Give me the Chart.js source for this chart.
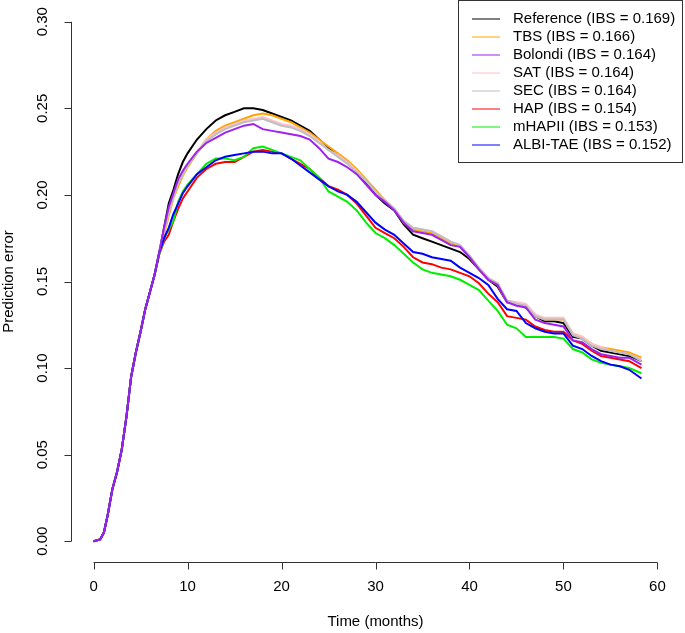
<!DOCTYPE html>
<html>
<head>
<meta charset="utf-8">
<script src="https://cdn.jsdelivr.net/npm/chart.js@4.4.1/dist/chart.umd.min.js"></script>
<style>
  html, body { margin: 0; padding: 0; background: #fff; }
  #wrap { width: 685px; height: 633px; }
</style>
</head>
<body>
<div id="wrap"><canvas id="myChart" width="685" height="633"></canvas></div>
<script>
// time grid (months)
const months = [0, 0.7, 1.1, 1.5, 2, 2.5, 3, 3.5, 4, 4.5, 5, 5.5, 6, 6.5,
  7, 7.5, 8, 8.5, 9, 9.5, 10, 11, 12, 13, 14, 15, 16, 17, 18, 19, 20,
  21, 22, 23, 24, 25, 26, 27, 28, 29, 30, 31, 32, 33, 34, 35, 36, 37, 38, 39, 40,
  41, 42, 43, 44, 45, 46, 47, 48, 49, 50, 51, 52, 53, 54, 55, 56, 57, 58.3];

// all curves share the first part (0 - 6.5 months)
const start = [0, 0.001, 0.005, 0.015, 0.030, 0.040, 0.053, 0.072, 0.095, 0.109, 0.121, 0.134, 0.144, 0.154];

// values from 7 months on
const reference = [0.167, 0.181, 0.195, 0.203, 0.212, 0.219, 0.224, 0.232, 0.238, 0.243, 0.246, 0.248, 0.250, 0.250, 0.249, 0.247, 0.245,
  0.243, 0.240, 0.237, 0.232, 0.227, 0.223, 0.219, 0.214, 0.207, 0.200, 0.195, 0.191, 0.183, 0.177, 0.175, 0.173, 0.171, 0.169, 0.167, 0.163,
  0.157, 0.151, 0.147, 0.138, 0.137, 0.135, 0.130, 0.127, 0.127, 0.126, 0.118, 0.117, 0.113, 0.110, 0.109, 0.108, 0.107, 0.104];
const tbs = [0.166, 0.177, 0.188, 0.198, 0.205, 0.211, 0.216, 0.224, 0.232, 0.237, 0.240, 0.242, 0.244, 0.246, 0.247, 0.246, 0.244,
  0.242, 0.239, 0.236, 0.232, 0.228, 0.224, 0.220, 0.215, 0.209, 0.203, 0.197, 0.192, 0.184, 0.180, 0.179, 0.178, 0.175, 0.172, 0.170, 0.164,
  0.157, 0.151, 0.148, 0.138, 0.137, 0.136, 0.130, 0.128, 0.128, 0.128, 0.120, 0.118, 0.114, 0.112, 0.111, 0.110, 0.109, 0.106];
const bolondi = [0.167, 0.181, 0.193, 0.201, 0.209, 0.214, 0.218, 0.225, 0.230, 0.233, 0.236, 0.238, 0.240, 0.241, 0.238, 0.237, 0.236,
  0.235, 0.234, 0.232, 0.227, 0.221, 0.219, 0.216, 0.212, 0.206, 0.200, 0.196, 0.191, 0.184, 0.179, 0.178, 0.177, 0.174, 0.171, 0.170, 0.164,
  0.157, 0.151, 0.148, 0.138, 0.136, 0.135, 0.128, 0.126, 0.125, 0.124, 0.116, 0.115, 0.111, 0.108, 0.107, 0.106, 0.106, 0.102];
const sat = [0.167, 0.179, 0.190, 0.199, 0.207, 0.212, 0.217, 0.225, 0.232, 0.236, 0.239, 0.241, 0.243, 0.244, 0.245, 0.243, 0.241,
  0.240, 0.238, 0.235, 0.231, 0.226, 0.223, 0.219, 0.214, 0.208, 0.202, 0.197, 0.192, 0.185, 0.181, 0.180, 0.179, 0.176, 0.173, 0.171, 0.165,
  0.158, 0.152, 0.149, 0.139, 0.138, 0.137, 0.131, 0.129, 0.129, 0.129, 0.120, 0.118, 0.114, 0.112, 0.110, 0.109, 0.108, 0.105];
const sec = [0.167, 0.179, 0.190, 0.199, 0.207, 0.212, 0.217, 0.224, 0.231, 0.235, 0.238, 0.240, 0.242, 0.243, 0.244, 0.242, 0.240,
  0.239, 0.237, 0.234, 0.230, 0.226, 0.222, 0.218, 0.213, 0.208, 0.202, 0.197, 0.192, 0.185, 0.181, 0.180, 0.179, 0.176, 0.173, 0.171, 0.165,
  0.158, 0.152, 0.149, 0.139, 0.137, 0.136, 0.130, 0.128, 0.128, 0.128, 0.119, 0.117, 0.113, 0.111, 0.110, 0.109, 0.108, 0.104];
const hap = [0.166, 0.173, 0.177, 0.185, 0.192, 0.198, 0.202, 0.210, 0.215, 0.218, 0.219, 0.219, 0.222, 0.225, 0.226, 0.225, 0.224,
  0.221, 0.218, 0.215, 0.210, 0.205, 0.203, 0.200, 0.195, 0.188, 0.181, 0.178, 0.175, 0.170, 0.164, 0.161, 0.160, 0.158, 0.157, 0.155, 0.153,
  0.149, 0.143, 0.138, 0.130, 0.129, 0.128, 0.124, 0.122, 0.121, 0.121, 0.116, 0.114, 0.110, 0.107, 0.106, 0.105, 0.104, 0.100];
const mhapii = [0.166, 0.175, 0.180, 0.185, 0.196, 0.202, 0.206, 0.212, 0.218, 0.221, 0.221, 0.220, 0.222, 0.227, 0.228, 0.226, 0.224,
  0.222, 0.220, 0.215, 0.210, 0.202, 0.199, 0.196, 0.191, 0.184, 0.178, 0.175, 0.171, 0.166, 0.161, 0.157, 0.155, 0.154, 0.153, 0.151, 0.148,
  0.145, 0.139, 0.133, 0.125, 0.123, 0.118, 0.118, 0.118, 0.118, 0.117, 0.111, 0.109, 0.105, 0.103, 0.102, 0.101, 0.100, 0.097];
const albiTae = [0.167, 0.175, 0.181, 0.189, 0.195, 0.201, 0.205, 0.212, 0.216, 0.220, 0.222, 0.223, 0.224, 0.225, 0.225, 0.224, 0.224,
  0.221, 0.217, 0.213, 0.209, 0.205, 0.202, 0.200, 0.196, 0.190, 0.184, 0.180, 0.177, 0.172, 0.167, 0.166, 0.164, 0.163, 0.162, 0.158, 0.155,
  0.152, 0.148, 0.140, 0.134, 0.133, 0.126, 0.123, 0.121, 0.120, 0.120, 0.113, 0.111, 0.107, 0.104, 0.102, 0.101, 0.099, 0.094];

const names = ['Reference (IBS = 0.169)', 'TBS (IBS = 0.166)', 'Bolondi (IBS = 0.164)', 'SAT (IBS = 0.164)',
  'SEC (IBS = 0.164)', 'HAP (IBS = 0.154)', 'mHAPII (IBS = 0.153)', 'ALBI-TAE (IBS = 0.152)'];
const colors = ['#000000', '#FFA500', '#A020F0', '#FFC0CB', '#BEBEBE', '#FF0000', '#00EE00', '#0000FF'];
const series = [reference, tbs, bolondi, sat, sec, hap, mhapii, albiTae];

const xTicks = [0, 10, 20, 30, 40, 50, 60];
const yTicks = [0.00, 0.05, 0.10, 0.15, 0.20, 0.25, 0.30];

const FONT = '15px "Liberation Sans", Arial, sans-serif';
const AXIS = '#333333';

const datasets = series.map((s, i) => ({
  label: names[i],
  data: months.map((m, k) => ({x: m, y: k < start.length ? start[k] : s[k - start.length]})),
  borderColor: colors[i],
  borderWidth: 2,
  pointRadius: 0,
  tension: 0,
  fill: false,
  order: i === 2 ? 0 : 8 - i,
}));

// R style axes and legend
const rStyle = {
  id: 'rStyle',
  afterDraw: (chart) => {
    const {ctx, chartArea} = chart;
    const xs = chart.scales.x, ys = chart.scales.y;
    ctx.save();
    ctx.strokeStyle = AXIS;
    ctx.fillStyle = '#000';
    ctx.lineWidth = 1;
    ctx.font = FONT;

    // y axis
    const ax = Math.round(chartArea.left) + 0.5;
    ctx.beginPath();
    ctx.moveTo(ax, ys.getPixelForValue(0));
    ctx.lineTo(ax, ys.getPixelForValue(0.30));
    yTicks.forEach(v => {
      const py = Math.round(ys.getPixelForValue(v)) + 0.5;
      ctx.moveTo(ax, py);
      ctx.lineTo(ax - 7, py);
    });
    ctx.stroke();
    ctx.textAlign = 'center';
    ctx.textBaseline = 'middle';
    yTicks.forEach(v => {
      ctx.save();
      ctx.translate(43, ys.getPixelForValue(v));
      ctx.rotate(-Math.PI / 2);
      ctx.fillText(v.toFixed(2), 0, 0);
      ctx.restore();
    });
    ctx.save();
    ctx.translate(9, (ys.getPixelForValue(0) + ys.getPixelForValue(0.30)) / 2);
    ctx.rotate(-Math.PI / 2);
    ctx.fillText('Prediction error', 0, 0);
    ctx.restore();

    // x axis
    const ay = Math.round(chartArea.bottom) + 0.5;
    ctx.beginPath();
    ctx.moveTo(xs.getPixelForValue(0), ay);
    ctx.lineTo(xs.getPixelForValue(60), ay);
    xTicks.forEach(v => {
      const px = Math.round(xs.getPixelForValue(v)) + 0.5;
      ctx.moveTo(px, ay);
      ctx.lineTo(px, ay + 7);
    });
    ctx.stroke();
    xTicks.forEach(v => ctx.fillText(String(v), xs.getPixelForValue(v), 587));
    ctx.fillText('Time (months)', (xs.getPixelForValue(0) + xs.getPixelForValue(60)) / 2, 622);

    // legend
    ctx.strokeStyle = AXIS;
    ctx.strokeRect(458.5, 0.5, 224, 162);
    ctx.textAlign = 'left';
    chart.data.datasets.forEach((ds, i) => {
      const py = 19 + i * 18;
      ctx.strokeStyle = ds.borderColor;
      ctx.beginPath();
      ctx.moveTo(472, py);
      ctx.lineTo(500, py);
      ctx.stroke();
      ctx.fillStyle = '#000';
      ctx.fillText(ds.label, 513, py);
    });
    ctx.restore();
  }
};

new Chart(document.getElementById('myChart'), {
  type: 'line',
  data: {datasets: datasets},
  options: {
    responsive: false,
    animation: false,
    layout: {padding: {left: 71, right: 5, top: 1, bottom: 71}},
    plugins: {legend: {display: false}, tooltip: {enabled: false}},
    scales: {
      x: {type: 'linear', min: -2.4, max: 62.4, display: false},
      y: {type: 'linear', min: -0.012, max: 0.312, display: false}
    }
  },
  plugins: [rStyle]
});
</script>
</body>
</html>
